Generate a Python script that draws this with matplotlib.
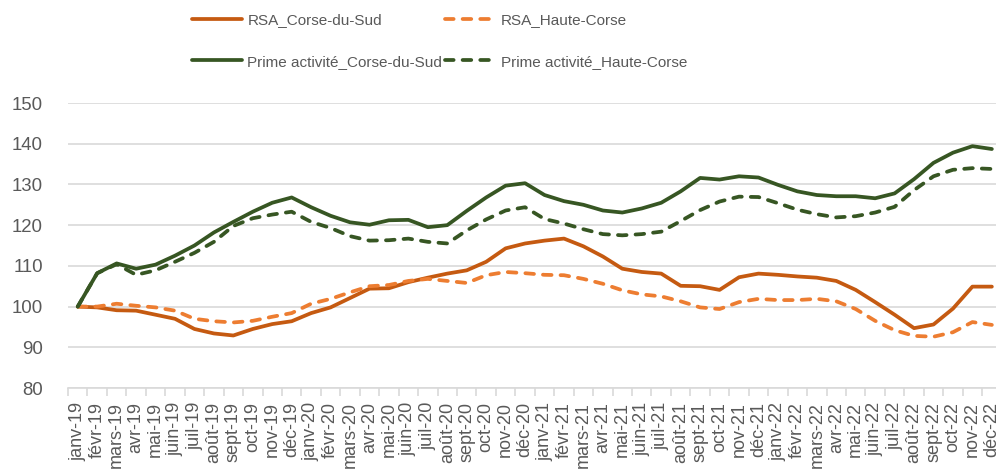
import matplotlib
matplotlib.use("Agg")
import matplotlib.pyplot as plt

plt.rcParams['font.family'] = ['Liberation Sans', 'DejaVu Sans']

# Mois (janv-19 -> déc-22)
mois = ["janv", "févr", "mars", "avr", "mai", "juin", "juil", "août", "sept", "oct", "nov", "déc"]
annees = ["19", "20", "21", "22"]
labels = [m + "-" + a for a in annees for m in mois]

# Indices base 100 en janv-19
rsa_cds = [100, 99.8, 99.1, 99, 98, 97, 94.5, 93.4, 92.9, 94.5, 95.7, 96.4,
           98.4, 99.8, 102.1, 104.4, 104.5, 106, 107.1, 108.1, 108.9, 111, 114.3, 115.5,
           116.2, 116.7, 114.8, 112.3, 109.3, 108.5, 108.1, 105.1, 105, 104.1, 107.2, 108.1,
           107.8, 107.4, 107.1, 106.3, 104.1, 101.1, 98, 94.7, 95.6, 99.5, 104.9, 104.9]
rsa_hc = [100, 100, 100.7, 100.2, 99.8, 99, 97, 96.4, 96.1, 96.5, 97.5, 98.4,
          100.7, 101.9, 103.5, 105, 105.3, 106.3, 106.8, 106.3, 105.8, 107.7, 108.5, 108.2,
          107.8, 107.7, 106.8, 105.6, 104, 103, 102.5, 101.3, 99.8, 99.4, 101.1, 101.9,
          101.6, 101.6, 101.9, 101.3, 99.4, 96.5, 94.2, 92.8, 92.6, 93.7, 96.2, 95.5]
pa_cds = [100, 108.2, 110.6, 109.3, 110.3, 112.5, 115, 118.2, 120.8, 123.3, 125.5, 126.8,
          124.4, 122.3, 120.7, 120.1, 121.2, 121.3, 119.5, 120, 123.5, 126.8, 129.7, 130.3,
          127.4, 125.9, 125, 123.6, 123.1, 124.1, 125.5, 128.3, 131.6, 131.2, 132, 131.7,
          129.9, 128.3, 127.4, 127.1, 127.1, 126.6, 127.8, 131.3, 135.3, 137.8, 139.4, 138.7]
pa_hc = [100, 108.2, 110.4, 107.8, 108.9, 111, 113.2, 115.9, 119.8, 121.7, 122.6, 123.3,
         120.8, 119.3, 117.3, 116.2, 116.3, 116.7, 115.9, 115.5, 118.7, 121.4, 123.6, 124.4,
         121.5, 120.4, 119, 117.8, 117.5, 117.8, 118.4, 121, 123.7, 125.8, 127, 126.9,
         125.4, 123.8, 122.7, 121.9, 122.2, 123.1, 124.5, 128.6, 132, 133.6, 134, 133.8]

orange_fonce = "#C55A11"
orange_clair = "#ED7D31"
vert = "#375623"
gris_txt = "#595959"

fig = plt.figure(figsize=(9.96, 4.71), dpi=100)
ax = fig.add_axes([0.0683, 0.1762, 0.9373, 0.6051])

x = list(range(len(labels)))
lw = 2.7
tirets = (2.3, 2.4)
l1, = ax.plot(x, rsa_cds, color=orange_fonce, lw=lw, solid_capstyle='round', label="RSA_Corse-du-Sud")
l2, = ax.plot(x, rsa_hc, color=orange_clair, lw=lw, dashes=tirets, dash_capstyle='round',
              label="RSA_Haute-Corse")
l3, = ax.plot(x, pa_cds, color=vert, lw=lw, solid_capstyle='round', label="Prime activité_Corse-du-Sud")
l4, = ax.plot(x, pa_hc, color=vert, lw=lw, dashes=tirets, dash_capstyle='round',
              label="Prime activité_Haute-Corse")

ax.set_xlim(-0.5, len(labels) - 0.5)
ax.set_ylim(80, 150)
ax.set_yticks(range(80, 151, 10))
ax.grid(axis='y', color="#D9D9D9", lw=1.2)
ax.set_axisbelow(True)

ax.set_xticks(x)
ax.set_xticklabels(labels, rotation=90, fontsize=13, color=gris_txt)
ax.set_xticks([i - 0.5 for i in range(len(labels) + 1)], minor=True)
ax.tick_params(axis='x', which='major', length=0, pad=10)
ax.tick_params(axis='x', which='minor', length=6, color="#D9D9D9", width=1.2)
ax.tick_params(axis='y', length=0, labelsize=13.4, labelcolor=gris_txt, pad=18)

for s in ['top', 'right', 'left']:
    ax.spines[s].set_visible(False)
ax.spines['bottom'].set_color("#D9D9D9")
ax.spines['bottom'].set_linewidth(1.2)

# ordre : ligne 1 = RSA, ligne 2 = Prime activité
leg = fig.legend(handles=[l1, l3, l2, l4], loc='upper left', bbox_to_anchor=(0.179, 1.0015),
                 ncol=2, frameon=False, fontsize=11, handlelength=3.3, handletextpad=0.33,
                 columnspacing=0.2, labelspacing=1.8)
for t in leg.get_texts():
    t.set_color(gris_txt)

fig.savefig("out.png", dpi=100)
